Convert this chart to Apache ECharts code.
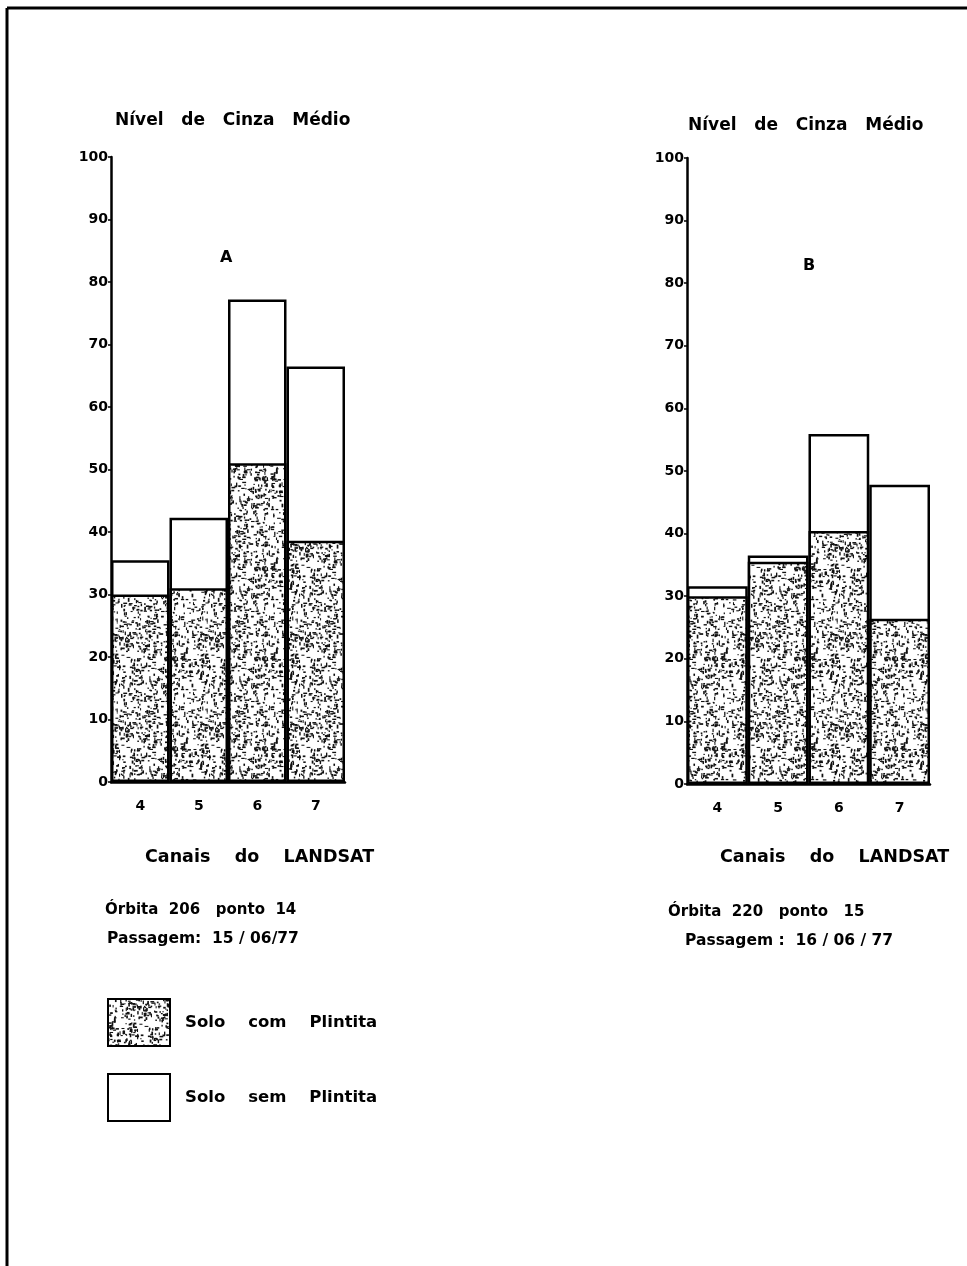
<!DOCTYPE html>
<html>
<head>
<meta charset="utf-8">
<script src="https://cdn.jsdelivr.net/npm/echarts@6/dist/echarts.min.js"></script>
<style>
html,body{margin:0;padding:0;background:#fff;}
#chart{width:967px;height:1266px;}
</style>
</head>
<body>
<div id="chart"></div>
<script>
// ---- data ----
const categories = ['4', '5', '6', '7'];
const semPlintitaA = [35.5, 42.3, 77.2, 66.5];
const comPlintitaA = [30.0, 31.0, 51.0, 38.6];
const semPlintitaB = [31.6, 36.5, 55.9, 47.8];
const comPlintitaB = [30.0, 35.5, 40.4, 26.4];
const yMin = 0, yMax = 100, yStep = 10;
const seriesNames = ['Solo com Plintita', 'Solo sem Plintita'];
const legendLabels = { 'Solo com Plintita': 'Solo    com    Plintita', 'Solo sem Plintita': 'Solo    sem    Plintita' };

// ---- stipple texture (deterministic) ----
function makeStipple() {
  const size = 90;
  const c = document.createElement('canvas');
  c.width = size; c.height = size;
  const g = c.getContext('2d');
  g.fillStyle = '#fff';
  g.fillRect(0, 0, size, size);
  let s = 987654;
  const r = () => { s = (s * 1103515245 + 12345) & 0x7fffffff; return s / 0x7fffffff; };
  g.fillStyle = '#111';
  for (let i = 0; i < 650; i++) {
    const x = r() * size, y = r() * size;
    const horiz = r() < 0.5;
    const len = 1 + r() * 3;
    const th = 1 + r() * 0.8;
    if (horiz) g.fillRect(x, y, len, th); else g.fillRect(x, y, th, len);
  }
  return c;
}
const stipple = { image: makeStipple(), repeat: 'repeat' };

const FONT = 'DejaVu Sans';
const chart = echarts.init(document.getElementById('chart'), null, { renderer: 'canvas' });

function xAxisFor(gi) {
  return {
    type: 'category', gridIndex: gi, data: categories,
    axisLine: { show: true, lineStyle: { color: '#000', width: 2.5 } },
    axisTick: { show: false },
    axisLabel: { margin: 17, color: '#000', fontFamily: FONT, fontWeight: 'bold', fontSize: 14 }
  };
}
function yAxisFor(gi) {
  return {
    type: 'value', gridIndex: gi, min: yMin, max: yMax, interval: yStep,
    splitLine: { show: false },
    axisLine: { show: true, lineStyle: { color: '#000', width: 2.5 } },
    axisTick: { show: true, length: 3, lineStyle: { color: '#000', width: 1.5 } },
    axisLabel: { margin: 3, color: '#000', fontFamily: FONT, fontWeight: 'bold', fontSize: 14 }
  };
}
function barSeries(name, data, gi, fill, z) {
  return {
    name: name, type: 'bar', xAxisIndex: gi, yAxisIndex: gi, data: data,
    barWidth: '100%', barGap: '-100%', z: z, silent: true,
    itemStyle: { color: fill, borderColor: '#000', borderWidth: 2.5 }
  };
}
function txt(text, left, top, size) {
  return { text: text, left: left, top: top, padding: 0,
    textStyle: { fontFamily: FONT, fontWeight: 'bold', fontSize: size, color: '#000' } };
}

const option = {
  backgroundColor: '#fff',
  animation: false,
  title: [
    txt('Nível   de   Cinza   Médio', 115, 112, 17),
    txt('Nível   de   Cinza   Médio', 688, 117, 17),
    txt('A', 220, 250, 16),
    txt('B', 803, 258, 16),
    txt('Canais    do    LANDSAT', 145, 848, 17.5),
    txt('Canais    do    LANDSAT', 720, 848, 17.5),
    txt('Órbita  206   ponto  14', 105, 903, 15),
    txt('Passagem:  15 / 06/77', 107, 931, 15.5),
    txt('Órbita  220   ponto   15', 668, 905, 15),
    txt('Passagem :  16 / 06 / 77', 685, 933, 15.5)
  ],
  legend: {
    data: [
      { name: seriesNames[0], icon: 'rect' },
      { name: seriesNames[1], icon: 'rect' }
    ],
    formatter: function (n) { return legendLabels[n]; },
    orient: 'vertical', left: 107, top: 998, padding: 0,
    itemWidth: 62, itemHeight: 47, itemGap: 26, selectedMode: false,
    textStyle: { fontFamily: FONT, fontWeight: 'bold', fontSize: 16.5, color: '#000', padding: [0, 0, 0, 10] }
  },
  grid: [
    { left: 111, top: 157, width: 234, height: 625 },
    { left: 687, top: 158, width: 243, height: 626 }
  ],
  xAxis: [xAxisFor(0), xAxisFor(1)],
  yAxis: [yAxisFor(0), yAxisFor(1)],
  series: [
    barSeries(seriesNames[1], semPlintitaA, 0, '#fff', 2),
    barSeries(seriesNames[0], comPlintitaA, 0, stipple, 3),
    barSeries(seriesNames[1], semPlintitaB, 1, '#fff', 2),
    barSeries(seriesNames[0], comPlintitaB, 1, stipple, 3)
  ],
  graphic: [
    { type: 'line', shape: { x1: 7, y1: 8, x2: 967, y2: 8 }, style: { stroke: '#000', lineWidth: 3 } },
    { type: 'line', shape: { x1: 7, y1: 8, x2: 7, y2: 1266 }, style: { stroke: '#000', lineWidth: 3 } }
  ]
};
chart.setOption(option);
</script>
</body>
</html>
